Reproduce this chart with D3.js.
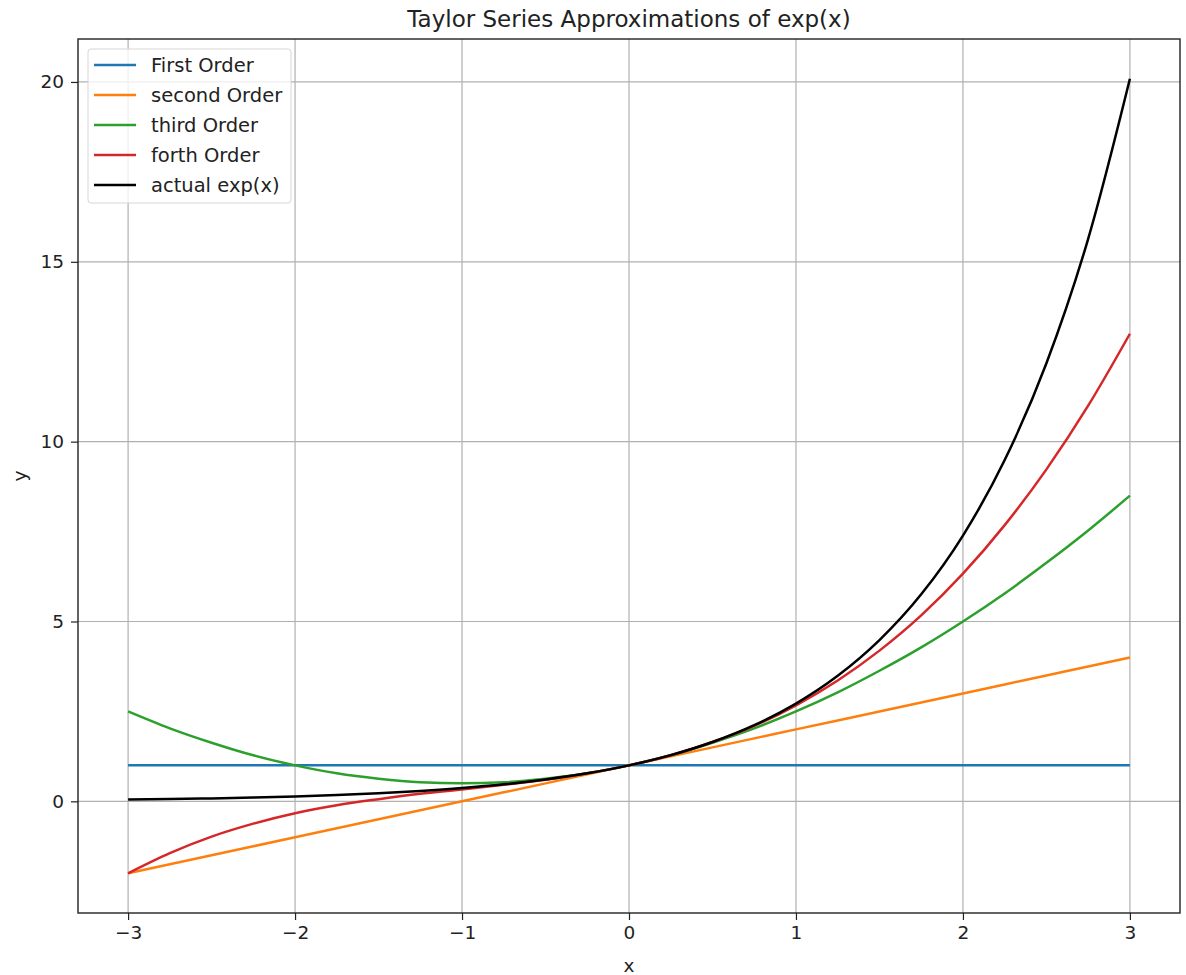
<!DOCTYPE html>
<html>
<head>
<meta charset="utf-8">
<script src="https://cdn.jsdelivr.net/npm/d3@7"></script>
<style>
  body { margin: 0; background: #fff; }
  svg { font-family: "DejaVu Sans", sans-serif; }
</style>
</head>
<body>
<svg id="chart" width="1186" height="975"></svg>
<script>
const xs = [-3, -2.75, -2.5, -2.25, -2, -1.75, -1.5, -1.25, -1, -0.75, -0.5, -0.25, 0,
  0.25, 0.5, 0.75, 1, 1.25, 1.5, 1.75, 2, 2.25, 2.5, 2.75, 3];
const firstOrder = [1, 1, 1, 1, 1, 1, 1, 1, 1, 1, 1, 1, 1, 1, 1, 1, 1, 1, 1, 1, 1, 1, 1, 1, 1];
const secondOrder = [-2, -1.75, -1.5, -1.25, -1, -0.75, -0.5, -0.25, 0, 0.25, 0.5, 0.75, 1,
  1.25, 1.5, 1.75, 2, 2.25, 2.5, 2.75, 3, 3.25, 3.5, 3.75, 4];
const thirdOrder = [2.5, 2.03, 1.63, 1.28, 1, 0.78, 0.63, 0.53, 0.5, 0.53, 0.63, 0.78, 1,
  1.28, 1.63, 2.03, 2.5, 3.03, 3.63, 4.28, 5, 5.78, 6.63, 7.53, 8.5];
const forthOrder = [-2, -1.44, -0.98, -0.62, -0.33, -0.11, 0.06, 0.21, 0.33, 0.46, 0.6, 0.78, 1,
  1.28, 1.65, 2.1, 2.67, 3.36, 4.19, 5.17, 6.33, 7.68, 9.23, 11.0, 13];
const actualExp = [0.05, 0.064, 0.082, 0.105, 0.135, 0.174, 0.223, 0.287, 0.368, 0.472, 0.607, 0.779, 1,
  1.284, 1.649, 2.117, 2.718, 3.49, 4.482, 5.755, 7.389, 9.488, 12.18, 15.64, 20.09];

const seriesNames = ['First Order', 'second Order', 'third Order', 'forth Order', 'actual exp(x)'];
const seriesColors = ['#1f77b4', '#ff7f0e', '#2ca02c', '#d62728', '#000000'];
const xTicks = [-3, -2, -1, 0, 1, 2, 3];
const yTicks = [0, 5, 10, 15, 20];

const allSeries = [firstOrder, secondOrder, thirdOrder, forthOrder, actualExp];

const svg = d3.select('#chart');
const margin = { left: 78, right: 6, top: 39, bottom: 62 };
const W = 1186, H = 975;

// matplotlib style 5% padding on data limits
const xmin = d3.min(xs), xmax = d3.max(xs);
const ymin = d3.min(allSeries.flat()), ymax = d3.max(allSeries.flat());
const xpad = (xmax - xmin) * 0.05, ypad = (ymax - ymin) * 0.05;

const x = d3.scaleLinear().domain([xmin - xpad, xmax + xpad]).range([margin.left, W - margin.right]);
const y = d3.scaleLinear().domain([ymin - ypad, ymax + ypad]).range([H - margin.bottom, margin.top]);

// grid
const grid = svg.append('g');
grid.selectAll('.gx').data(xTicks).join('line')
  .attr('x1', d => x(d)).attr('x2', d => x(d))
  .attr('y1', margin.top).attr('y2', H - margin.bottom)
  .attr('stroke', '#b0b0b0').attr('stroke-width', 1.2);
grid.selectAll('.gy').data(yTicks).join('line')
  .attr('y1', d => y(d)).attr('y2', d => y(d))
  .attr('x1', margin.left).attr('x2', W - margin.right)
  .attr('stroke', '#b0b0b0').attr('stroke-width', 1.2);

// lines
const line = d3.line().curve(d3.curveMonotoneX);
svg.append('g').selectAll('path').data(allSeries).join('path')
  .attr('d', s => line(s.map((v, i) => [x(xs[i]), y(v)])))
  .attr('fill', 'none')
  .attr('stroke', (s, i) => seriesColors[i])
  .attr('stroke-width', 2.5);

// axes
const fmt = d3.format('d');
const xAxis = svg.append('g').attr('transform', `translate(0,${H - margin.bottom})`)
  .call(d3.axisBottom(x).tickValues(xTicks).tickFormat(fmt).tickSizeOuter(0).tickSize(7).tickPadding(6));
const yAxis = svg.append('g').attr('transform', `translate(${margin.left},0)`)
  .call(d3.axisLeft(y).tickValues(yTicks).tickFormat(fmt).tickSizeOuter(0).tickSize(7).tickPadding(7));
[xAxis, yAxis].forEach(a => {
  a.select('.domain').remove();
  a.selectAll('text').attr('font-size', 18.5).attr('fill', '#222').style('font-family', 'DejaVu Sans');
  a.selectAll('line').attr('stroke', '#222').attr('stroke-width', 1.2);
});

// frame
svg.append('rect')
  .attr('x', margin.left).attr('y', margin.top)
  .attr('width', W - margin.right - margin.left).attr('height', H - margin.bottom - margin.top)
  .attr('fill', 'none').attr('stroke', '#222').attr('stroke-width', 1.4);

// titles
svg.append('text').attr('x', (margin.left + W - margin.right) / 2).attr('y', 27)
  .attr('text-anchor', 'middle').attr('font-size', 23).attr('fill', '#222')
  .text('Taylor Series Approximations of exp(x)');
svg.append('text').attr('x', (margin.left + W - margin.right) / 2).attr('y', 972)
  .attr('text-anchor', 'middle').attr('font-size', 18.5).attr('fill', '#222').text('x');
svg.append('text').attr('transform', `translate(26,${(margin.top + H - margin.bottom) / 2}) rotate(-90)`)
  .attr('text-anchor', 'middle').attr('font-size', 18.5).attr('fill', '#222').text('y');

// legend
const lg = svg.append('g').attr('transform', 'translate(88,49)');
lg.append('rect').attr('width', 203).attr('height', 154).attr('rx', 3)
  .attr('fill', 'rgba(255,255,255,0.8)').attr('stroke', '#d6d6d6').attr('stroke-width', 1);
const items = lg.selectAll('.item').data(seriesNames).join('g')
  .attr('transform', (d, i) => `translate(0,${16 + i * 30})`);
items.append('line').attr('x1', 6).attr('x2', 48)
  .attr('stroke', (d, i) => seriesColors[i]).attr('stroke-width', 2.5);
items.append('text').attr('x', 63).attr('dy', '0.35em')
  .attr('font-size', 19.5).attr('fill', '#222').text(d => d);
</script>
</body>
</html>
